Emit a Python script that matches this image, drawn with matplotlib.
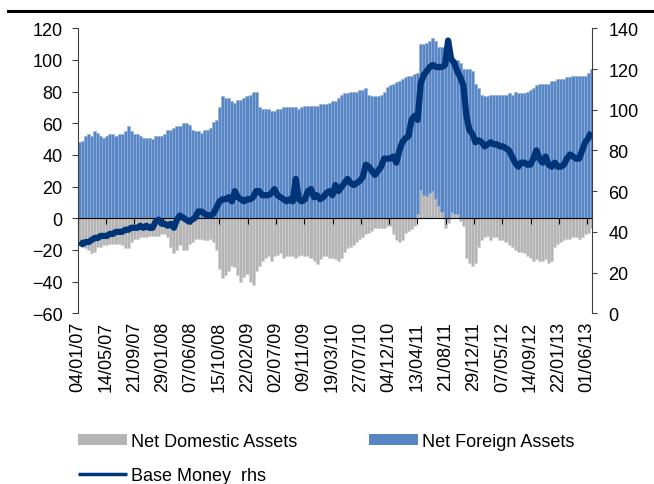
import matplotlib
matplotlib.use('Agg')
import matplotlib.pyplot as plt
from matplotlib.lines import Line2D
import numpy as np
import pandas as pd

plt.rcParams['font.family'] = ['Liberation Sans', 'DejaVu Sans']

# readings every 14 days starting 04/01/2007
start = '2007-01-04'
step_days = 14

# net foreign assets (lhs)
nfa = [48, 49, 52, 53, 52, 55, 54, 52, 51, 52,
       53, 53, 52, 53, 53, 55, 58, 55, 53, 53,
       52, 51, 51, 51, 50, 52, 52, 52, 53, 56,
       56, 57, 58, 58, 60, 60, 59, 56, 55, 55,
       54, 56, 56, 57, 61, 62, 70, 77, 76, 76,
       74, 73, 75, 75, 76, 77, 78, 80, 80, 70,
       69, 69, 69, 68, 68, 69, 69, 70, 70, 70,
       70, 70, 69, 70, 71, 71, 71, 71, 71, 72,
       72, 72, 73, 74, 74, 76, 78, 79, 79, 80,
       80, 80, 81, 81, 82, 78, 77, 77, 77, 78,
       80, 83, 84, 85, 86, 87, 88, 89, 90, 90,
       91, 89, 92, 95, 97, 96, 97, 100, 100, 104,
       107, 106, 97, 97, 97, 98, 94, 94, 94, 93,
       85, 82, 78, 77, 77, 78, 78, 78, 78, 78,
       78, 79, 78, 80, 79, 79, 79, 80, 81, 82,
       84, 85, 85, 85, 85, 87, 87, 88, 88, 88,
       89, 89, 90, 90, 90, 90, 90, 92, 94]

# net domestic assets (lhs)
nda = [-16, -18, -19, -20, -22, -21, -18, -18, -17, -17,
       -16, -16, -16, -16, -17, -19, -19, -15, -13, -13,
       -12, -12, -12, -11, -11, -11, -11, -10, -10, -12,
       -18, -22, -20, -17, -20, -20, -16, -15, -13, -13,
       -13, -14, -14, -13, -15, -20, -32, -38, -36, -33,
       -30, -31, -36, -40, -37, -35, -40, -42, -33, -30,
       -27, -25, -24, -27, -24, -23, -22, -25, -24, -24,
       -24, -25, -24, -23, -24, -24, -25, -27, -29, -26,
       -24, -24, -25, -25, -26, -27, -25, -21, -19, -18,
       -17, -15, -13, -12, -10, -9, -8, -6, -6, -6,
       -6, -5, -5, -10, -14, -15, -14, -9, -8, -7,
       -5, 3, 18, 15, 14, 16, 17, 12, 8, 4,
       -6, -3, 4, 3, 3, -2, -5, -25, -28, -30,
       -28, -18, -14, -12, -11, -14, -12, -12, -14, -14,
       -15, -17, -18, -20, -21, -21, -22, -24, -25, -27,
       -26, -27, -27, -26, -28, -27, -18, -16, -15, -14,
       -13, -13, -12, -12, -13, -12, -10, -9, -6]

# base money (rhs)
base_money = [35, 34, 35, 35, 36, 37, 37, 38, 38, 38,
              39, 39, 40, 40, 40, 41, 41, 42, 42, 42,
              43, 42, 43, 42, 42, 45, 46, 44, 44, 43,
              44, 42, 46, 48, 47, 46, 45, 46, 47, 50,
              50, 49, 48, 48, 49, 52, 55, 56, 56, 57,
              55, 60, 57, 56, 55, 56, 56, 57, 60, 60,
              58, 58, 58, 59, 61, 58, 57, 56, 55, 56,
              55, 66, 56, 55, 56, 60, 61, 57, 58, 56,
              57, 59, 60, 58, 63, 60, 62, 64, 66, 64,
              63, 64, 65, 67, 73, 72, 70, 68, 70, 72,
              76, 76, 76, 77, 74, 80, 84, 86, 87, 95,
              97, 95, 113, 117, 119, 121, 122, 121, 121, 121,
              122, 134, 125, 123, 119, 116, 112, 97, 90, 88,
              84, 85, 84, 82, 83, 84, 83, 83, 82, 82,
              81, 80, 77, 74, 72, 74, 74, 73, 73, 76,
              80, 76, 74, 77, 73, 72, 74, 72, 72, 73,
              76, 78, 77, 76, 76, 80, 84, 86, 89]

tick_labels = ['04/01/07', '14/05/07', '21/09/07', '29/01/08', '07/06/08',
               '15/10/08', '22/02/09', '02/07/09', '09/11/09', '19/03/10',
               '27/07/10', '04/12/10', '13/04/11', '21/08/11', '29/12/11',
               '07/05/12', '14/09/12', '22/01/13', '01/06/13']

dates = pd.date_range(start, periods=len(nfa), freq=f'{step_days}D')
nda = np.array(nda)
nfa = np.array(nfa)
tick_dates = pd.to_datetime(tick_labels, format='%d/%m/%y')

fig = plt.figure(figsize=(6.54, 4.85), dpi=100)
ax = fig.add_axes([0.1188, 0.352, 0.786, 0.5876])

ax.bar(dates, nda, width=step_days, align='edge', color='#b4b4b4',
       edgecolor='#d2d2d2', linewidth=0.4, label='Net Domestic Assets')
ax.bar(dates, nfa, width=step_days, align='edge', bottom=np.clip(nda, 0, None),
       color='#5886c4', edgecolor='#8fb0dc', linewidth=0.4,
       label='Net Foreign Assets')

ax.set_ylim(-60, 120)
ax.set_yticks(range(-60, 121, 20))
ax.set_xlim(pd.Timestamp(start) - pd.Timedelta(days=1),
            pd.Timestamp(start) + pd.Timedelta(days=2361))
ax.set_xticks(tick_dates)
ax.set_xticklabels(tick_labels)
ax.spines['top'].set_visible(False)
ax.spines['right'].set_visible(False)
ax.spines['bottom'].set_position(('data', 0))
ax.spines['bottom'].set_zorder(3)
ax.spines['left'].set_color('#404040')
ax.tick_params(axis='x', direction='out', length=4, pad=70, labelsize=13,
               labelrotation=90)
for lbl in ax.get_xticklabels():
    lbl.set_rotation_mode('anchor')
    lbl.set_ha('right')
    lbl.set_va('center')
ax.tick_params(axis='y', direction='out', length=4, pad=7, labelsize=13,
               color='#404040')

ax2 = ax.twinx()
ax2.plot(dates + pd.Timedelta(days=7), base_money, color='#003478', lw=4.5,
         solid_capstyle='butt', label='Base Money  rhs')
ax2.set_ylim(0, 140)
ax2.set_yticks(range(0, 141, 20))
for s in ['top', 'left', 'bottom']:
    ax2.spines[s].set_visible(False)
ax2.spines['right'].set_color('#404040')
ax2.tick_params(axis='y', direction='out', length=3.5, pad=8.5, labelsize=13,
                color='#404040')

h1, l1 = ax.get_legend_handles_labels()
h2, l2 = ax2.get_legend_handles_labels()
leg = fig.legend([h1[0], h2[0], h1[1]], [l1[0], l2[0], l1[1]], ncol=2,
                 loc='upper left', bbox_to_anchor=(0.12, 0.105), frameon=False,
                 fontsize=13, handlelength=2.7, handleheight=0.55,
                 handletextpad=0.2, columnspacing=4.0, labelspacing=0.95,
                 borderpad=0, borderaxespad=0)
for p in leg.get_patches():
    p.set_edgecolor('none')
for ln in leg.get_lines():
    ln.set_linewidth(2.5)

# rule under the (cropped) title
fig.add_artist(Line2D([0.012, 1.0], [0.975, 0.975], transform=fig.transFigure,
                      color='black', lw=2.2))

fig.savefig('out.png', dpi=100)
